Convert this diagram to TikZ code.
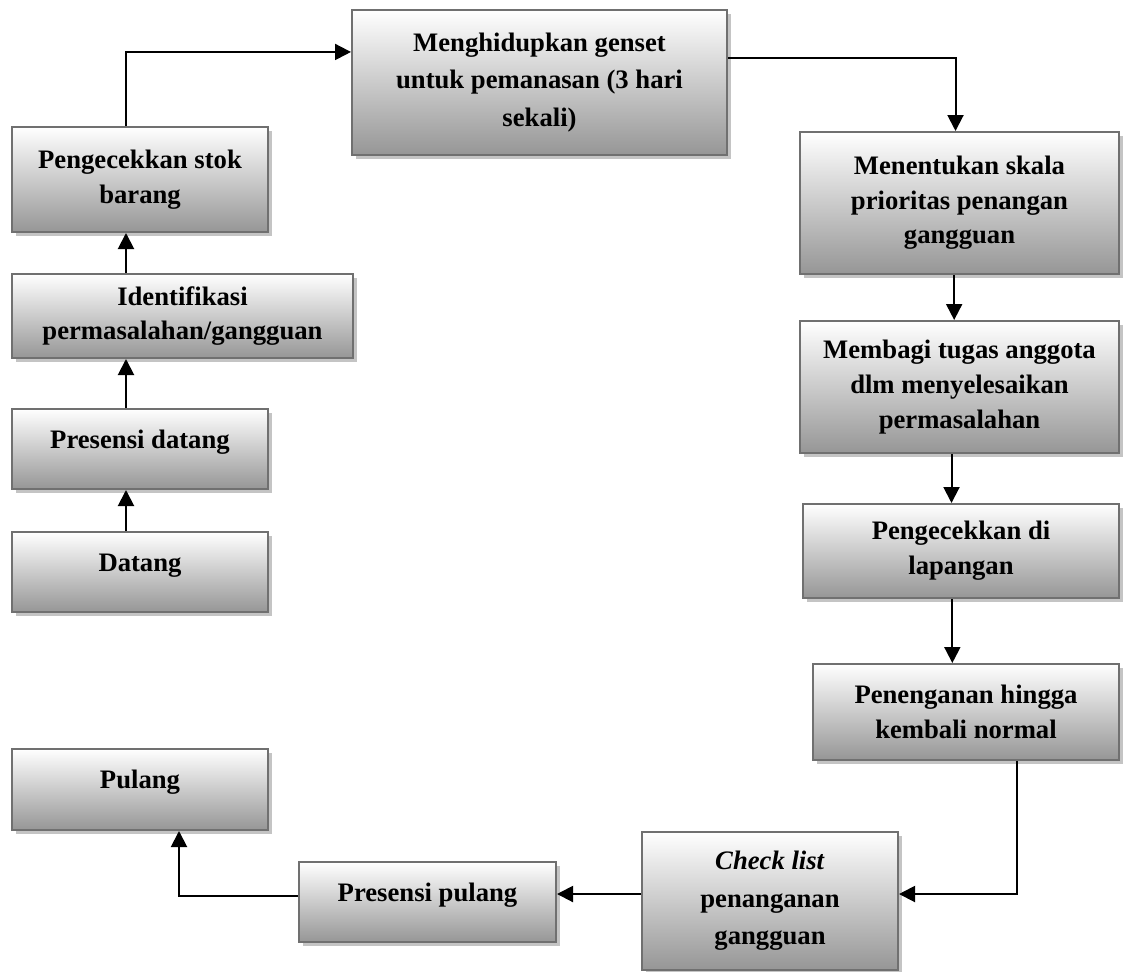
\documentclass[tikz,border=0pt]{standalone}
\usepackage{fontspec}
\setmainfont{Liberation Serif}
\usetikzlibrary{arrows.meta,shadows}
\definecolor{boxborder}{RGB}{112,112,112}
\definecolor{boxbottom}{RGB}{150,150,150}
\definecolor{boxshadow}{RGB}{196,196,196}
\tikzset{
  box/.style={draw=boxborder, line width=1.5pt, rectangle, top color=white, bottom color=boxbottom,
    drop shadow={shadow xshift=3pt, shadow yshift=-3pt, fill=boxshadow, opacity=1},
    align=center, inner sep=2pt, font=\fontsize{20}{26}\selectfont\bfseries},
  oneline/.style={text height=14pt, text depth=15pt},
  wide/.style={font=\fontsize{20}{28}\selectfont\bfseries},
  arr/.style={line width=1.5pt, -{Triangle[length=12pt,width=12pt]}},
}
\newcommand\bx[7]{%
  \pgfmathsetmacro\bxcx{(#2+#4)/2}\pgfmathsetmacro\bxcy{(#3+#5)/2}%
  \pgfmathsetmacro\bxww{(#4-#2)*0.75}\pgfmathsetmacro\bxhh{(#5-#3)*0.75}%
  \node[box,#6,minimum width=\bxww pt,minimum height=\bxhh pt] (#1) at (\bxcx,\bxcy) {#7};}
\begin{document}
\begin{tikzpicture}[x=0.75pt,y=-0.75pt]
\useasboundingbox (0,0) rectangle (1123,971);
% left column
\bx{stok}{12}{127}{268}{232}{}{Pengecekkan stok\\barang}
\bx{ident}{12}{274}{353}{358}{}{Identifikasi\\permasalahan/gangguan}
\bx{presdatang}{12}{409}{268}{489}{oneline}{Presensi datang}
\bx{datang}{12}{532}{268}{612}{oneline}{Datang}
\bx{pulang}{12}{749}{268}{830}{oneline}{Pulang}
% top
\bx{mengh}{352}{10}{727}{155}{wide}{Menghidupkan genset\\untuk pemanasan (3 hari\\sekali)}
% right column
\bx{menent}{800}{132}{1119}{274}{}{Menentukan skala\\prioritas penangan\\gangguan}
\bx{membagi}{800}{321}{1119}{453}{}{Membagi tugas anggota\\dlm menyelesaikan\\permasalahan}
\bx{lapangan}{803}{504}{1119}{598}{}{Pengecekkan di\\lapangan}
\bx{penen}{813}{664}{1119}{760}{}{Penenganan hingga\\kembali normal}
% bottom
\bx{check}{642}{832}{898}{970}{wide}{\textit{Check list}\\penanganan\\gangguan}
\bx{prespulang}{299}{862}{556}{942}{oneline}{Presensi pulang}
% connectors
\draw[arr] ([xshift=-10.5pt]datang.north) -- ([xshift=-10.5pt]datang.north |- presdatang.south);
\draw[arr] ([xshift=-10.5pt]presdatang.north) -- ([xshift=-10.5pt]presdatang.north |- ident.south);
\draw[arr] ([xshift=-10.5pt]stok.south |- ident.north) -- ([xshift=-10.5pt]stok.south);
\draw[arr] ([xshift=-10.5pt]stok.north) |- ([yshift=22.9pt]mengh.west);
\draw[arr] ([yshift=18.4pt]mengh.east) -| ([xshift=-3pt]menent.north);
\draw[arr] ([xshift=-4pt]menent.south) -- ([xshift=-4pt]menent.south |- membagi.north);
\draw[arr] ([xshift=-6pt]membagi.south) -- ([xshift=-6pt]membagi.south |- lapangan.north);
\draw[arr] ([xshift=-6.5pt]lapangan.south) -- ([xshift=-6.5pt]lapangan.south |- penen.north);
\draw[arr] ([xshift=38pt]penen.south) |- ([yshift=5.25pt]check.east);
\draw[arr] ([yshift=5.25pt]check.west) -- ([yshift=5.25pt]check.west -| prespulang.east);
\draw[arr] ([yshift=4.5pt]prespulang.west) -| ([xshift=29.25pt]pulang.south);
\end{tikzpicture}
\end{document}
